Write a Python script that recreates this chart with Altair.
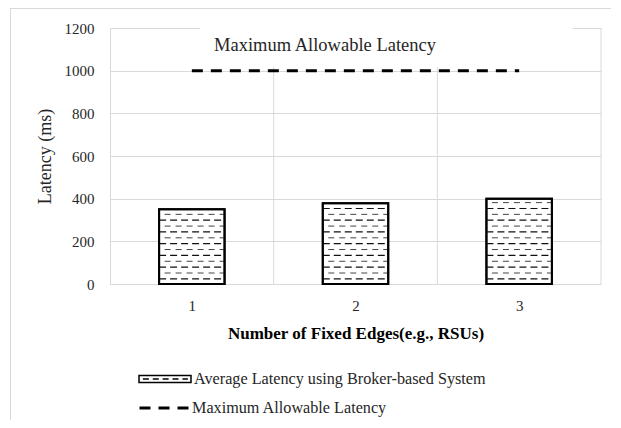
import altair as alt
import pandas as pd

# ---- data ----
edges = [1, 2, 3]
avg_latency = [350, 378, 400]
max_latency = [1000, 1000, 1000]
y_ticks = [0, 200, 400, 600, 800, 1000, 1200]
bar_label = "Average Latency using Broker-based System"
line_label = "Maximum Allowable Latency"
chart_title = "Maximum Allowable Latency"
x_title = "Number of Fixed Edges(e.g., RSUs)"
y_title = "Latency (ms)"

df = pd.DataFrame({
    "edge": edges,
    "latency": avg_latency,
    "limit": max_latency,
    "bar_series": [bar_label] * len(edges),
    "line_series": [line_label] * len(edges),
})
one = pd.DataFrame({"k": [0]})

FONT = "Liberation Serif"
GRID = "#d9d9d9"
TXT = "#262626"

x_scale = alt.Scale(domain=[0.5, 3.5], nice=False, zero=False)
y_scale = alt.Scale(domain=[0, 1200], nice=False, zero=True)

base = alt.Chart(df).transform_calculate(
    lo="datum.edge - 0.2", hi="datum.edge + 0.2", zero="0"
)

symbol_path = ("M-1,-0.135H1V0.135H-1Z M-0.85,0H-0.62 M-0.47,0H-0.24 "
               "M-0.09,0H0.14 M0.29,0H0.52 M0.67,0H0.88")

x_axis = alt.Axis(values=edges, format="d", title=x_title, grid=False,
                  ticks=False, domainColor=GRID, labelFont=FONT,
                  labelFontSize=15, labelColor=TXT, labelPadding=14,
                  titleFont=FONT, titleFontSize=17, titleFontWeight="bold",
                  titleColor="#000", titlePadding=12)
y_axis = alt.Axis(values=y_ticks, format="d", title=y_title, grid=True, gridColor=GRID,
                  ticks=False, domainColor=GRID, labelFont=FONT,
                  labelFontSize=15, labelColor=TXT, labelPadding=16,
                  titleFont=FONT, titleFontSize=18, titleFontWeight="normal",
                  titleColor=TXT, titlePadding=10)

# axes + bars
bars = base.mark_rect(stroke="black", strokeWidth=2).encode(
    x=alt.X("lo:Q", scale=x_scale, axis=x_axis),
    x2="hi:Q",
    y=alt.Y("latency:Q", scale=y_scale, axis=y_axis),
    y2="zero:Q",
    fill=alt.Fill("bar_series:N", scale=alt.Scale(range=["white"]),
                  legend=alt.Legend(title=None, orient="none", legendX=28, legendY=324,
                                    symbolType=symbol_path, symbolSize=2704,
                                    symbolStrokeColor="black", symbolStrokeWidth=1.5,
                                    symbolFillColor="white",
                                    labelFont=FONT, labelFontSize=16.2, labelColor=TXT,
                                    labelLimit=500, labelOffset=2, padding=0)),
)

# outer chart frame lines (decoration)
frame_top = alt.Chart(one).mark_rule(color=GRID, strokeWidth=1).encode(
    x=alt.value(-100), x2=alt.value(600), y=alt.value(-19.5)
)
frame_left = alt.Chart(one).mark_rule(color=GRID, strokeWidth=1).encode(
    x=alt.value(-99.5), y=alt.value(-20), y2=alt.value(420)
)

# vertical gridlines at category boundaries
vgrid = alt.Chart(df).transform_calculate(boundary="datum.edge + 0.5").mark_rule(
    color=GRID, strokeWidth=1
).encode(x=alt.X("boundary:Q", scale=x_scale))

# white box behind the in-plot title
box = alt.Chart(one).mark_rect(fill="white").encode(
    x=alt.value(90), x2=alt.value(463), y=alt.value(-3), y2=alt.value(39)
)

hatch_a = base.transform_calculate(
    row="sequence(24, datum.latency - 6, 55)"
).transform_flatten(["row"]).mark_rule(
    color="#111", strokeWidth=1.2, strokeDash=[7, 4]
).encode(
    x=alt.X("lo:Q", scale=x_scale), x2="hi:Q",
    y=alt.Y("row:Q", scale=y_scale),
)

hatch_b = base.transform_calculate(
    row="sequence(51.5, datum.latency - 6, 55)"
).transform_flatten(["row"]).mark_rule(
    color="#444", strokeWidth=1, strokeDash=[6, 5], strokeDashOffset=5.5
).encode(
    x=alt.X("lo:Q", scale=x_scale), x2="hi:Q",
    y=alt.Y("row:Q", scale=y_scale),
)

outline = base.mark_rect(filled=False, stroke="black", strokeWidth=2).encode(
    x=alt.X("lo:Q", scale=x_scale), x2="hi:Q",
    y=alt.Y("latency:Q", scale=y_scale), y2="zero:Q",
)

line = alt.Chart(df).mark_line(color="black", strokeWidth=3, strokeCap="butt").encode(
    x=alt.X("edge:Q", scale=x_scale),
    y=alt.Y("limit:Q", scale=y_scale),
    strokeDash=alt.StrokeDash("line_series:N", scale=alt.Scale(range=[[11, 8]]),
                              legend=alt.Legend(title=None, orient="none", legendX=28,
                                                legendY=354, symbolType="stroke",
                                                symbolSize=2401, symbolStrokeWidth=3,
                                                symbolStrokeColor="black",
                                                labelFont=FONT, labelFontSize=16.2,
                                                labelColor=TXT, labelLimit=500,
                                                labelOffset=2, padding=0)),
)

title_text = alt.Chart(one).mark_text(
    text=chart_title, font=FONT, fontSize=18.5, color=TXT, align="center",
    baseline="middle"
).encode(x=alt.value(215), y=alt.value(17))

chart = alt.layer(
    bars, frame_top, frame_left, vgrid, box, hatch_a, hatch_b, outline, line, title_text
).properties(
    width=491, height=256,
    padding={"left": 102, "top": 20, "right": 10, "bottom": 136},
    autosize=alt.AutoSizeParams(type="none"),
).resolve_legend(fill="independent", strokeDash="independent").configure(
    font=FONT, background="white"
).configure_axis(labelFont=FONT, titleFont=FONT).configure_text(
    font=FONT
).configure_view(strokeWidth=0)

chart.save("out.html", embed_options={"renderer": "svg", "actions": False})
